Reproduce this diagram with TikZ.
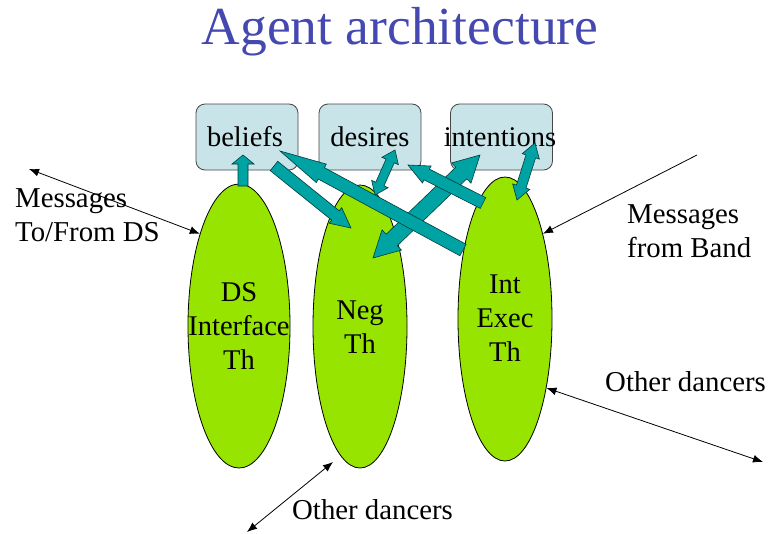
\documentclass[tikz,border=0pt]{standalone}
\usepackage{fontspec}
\setmainfont{Liberation Serif}
\usetikzlibrary{calc,shapes.geometric,arrows.meta}
\definecolor{titleblue}{RGB}{68,72,176}
\definecolor{boxfill}{RGB}{200,228,232}
\definecolor{boxline}{RGB}{70,70,70}
\definecolor{limefill}{RGB}{150,228,0}
\definecolor{tealfill}{RGB}{0,163,163}
\definecolor{tealline}{RGB}{0,60,60}
\tikzset{
  statebox/.style={draw=boxline, fill=boxfill, rounded corners=9pt, line width=0.8pt,
    minimum width=102pt, minimum height=66pt, inner sep=0pt},
  boxtext/.style={font=\fontsize{28.5}{34}\selectfont, inner sep=0pt},
  thread/.style={ellipse, draw=black, fill=limefill, line width=0.8pt, inner sep=0pt},
  threadtext/.style={font=\fontsize{28.5}{34}\selectfont, align=center, inner sep=0pt},
  lbl/.style={font=\fontsize{28.8}{34}\selectfont, align=left, anchor=west, inner sep=0pt},
  msg/.style={draw=black, line width=0.8pt},
  blk/.style={fill=tealfill, draw=tealline, line width=0.6pt, line join=miter},
  thintip/.tip={Latex[length=10pt,width=8pt]}
}
% single-headed block arrow: tail, tip, shaft half-width, head half-width, head length
\newcommand\blkone[5]{%
  \path ($(#2)!#5!(#1)$) coordinate (bkN);
  \filldraw[blk] ($(#1)!#3!90:(#2)$) -- ($(bkN)!#3!90:(#2)$) -- ($(bkN)!#4!90:(#2)$) -- (#2)
    -- ($(bkN)!#4!-90:(#2)$) -- ($(bkN)!#3!-90:(#2)$) -- ($(#1)!#3!-90:(#2)$) -- cycle;}
% double-headed block arrow
\newcommand\blktwo[5]{%
  \path ($(#2)!#5!(#1)$) coordinate (bkN) ($(#1)!#5!(#2)$) coordinate (bkM);
  \filldraw[blk] (#1) -- ($(bkM)!#4!90:(#2)$) -- ($(bkM)!#3!90:(#2)$) -- ($(bkN)!#3!90:(#2)$)
    -- ($(bkN)!#4!90:(#2)$) -- (#2) -- ($(bkN)!#4!-90:(#2)$) -- ($(bkN)!#3!-90:(#2)$)
    -- ($(bkM)!#3!-90:(#2)$) -- ($(bkM)!#4!-90:(#2)$) -- cycle;}
\begin{document}
\begin{tikzpicture}[x=1pt,y=-1pt]
\useasboundingbox[fill=white] (0,0) rectangle (768,533);
% title
\node[anchor=base, text=titleblue, font=\fontsize{53.5}{60}\selectfont, inner sep=0pt] (title) at (400,44) {Agent architecture};
% state boxes
\node[statebox] (belbox) at (247,137) {};
\node[statebox] (desbox) at (370,137) {};
\node[statebox] (intbox) at (501.5,137) {};
\node[boxtext] (beliefs) at (245,137) {beliefs};
\node[boxtext] (desires) at (370,137) {desires};
\node[boxtext] (intentions) at (500,137) {intentions};
% threads
\node[thread, minimum width=102pt, minimum height=284pt] (ds) at (239,326) {};
\node[thread, minimum width=94pt, minimum height=283pt] (neg) at (360,326.5) {};
\node[thread, minimum width=94pt, minimum height=284pt] (ie) at (505,319) {};
\node[threadtext] (dstext) at (239,326) {DS\\Interface\\Th};
\node[threadtext] (negtext) at (360,327) {Neg\\Th};
\node[threadtext] (ietext) at (505,318) {Int\\Exec\\Th};
% block arrow end points
\coordinate (a1) at (243,186); \coordinate (a2) at (243,155);
\coordinate (b1) at (274,166); \coordinate (b2) at (351,228);
\coordinate (c1) at (463,250); \coordinate (c2) at (280,151);
\coordinate (d1) at (395,150); \coordinate (d2) at (375,195);
\coordinate (e1) at (483,203); \coordinate (e2) at (408,165);
\coordinate (f1) at (480,155); \coordinate (f2) at (373,258);
\coordinate (g1) at (535,143); \coordinate (g2) at (517,200);
\blkone{a1}{a2}{5pt}{11pt}{9pt}
\blkone{b1}{b2}{6pt}{10pt}{20pt}
\blktwo{f1}{f2}{8pt}{14pt}{26pt}
\blkone{c1}{c2}{6.5pt}{10.5pt}{47pt}
\blktwo{d1}{d2}{4.5pt}{9pt}{12pt}
\blkone{e1}{e2}{6pt}{9.5pt}{21pt}
\blktwo{g1}{g2}{5pt}{9pt}{14pt}
% message connectors
\coordinate (dsfar) at (29,169);
\coordinate (bandfar) at (697,155);
\coordinate (dancersR) at (763,462);
\coordinate (dancersB) at (247,532);
\coordinate (negnear) at (333,462);
\draw[msg, {thintip}-{thintip}] (dsfar) -- (ds.113);
\draw[msg, -{thintip}] (bandfar) -- (ie.66);
\draw[msg, {thintip}-{thintip}] (ie.-59) -- (dancersR);
\draw[msg, {thintip}-{thintip}] (dancersB) -- (negnear);
% labels
\node[lbl] (lblds) at (15,215) {Messages\\To/From DS};
\node[lbl] (lblband) at (627,231) {Messages\\from Band};
\node[lbl] (lblothR) at (605,382) {Other dancers};
\node[lbl] (lblothB) at (292,510) {Other dancers};
\end{tikzpicture}
\end{document}
